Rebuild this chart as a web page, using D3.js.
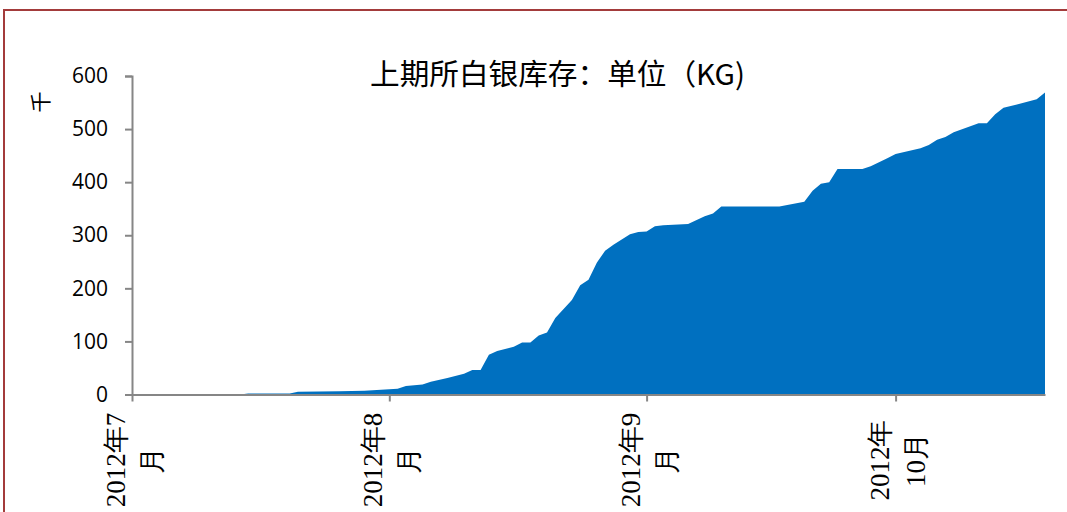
<!DOCTYPE html>
<html lang="zh">
<head>
    <meta charset="UTF-8">
    <title>上期所白银库存</title>
    <style>
        body { margin: 0; background: #fff; }
        svg { display: block; }
    </style>
</head>
<body>
<script src="https://cdn.jsdelivr.net/npm/d3@7"></script>
<script>
    // 上期所白银库存（千 KG），读自原图
    var dates = ["2012-07-01","2012-07-14","2012-07-15","2012-07-20","2012-07-21","2012-07-26",
        "2012-07-29","2012-07-31","2012-08-02","2012-08-03","2012-08-05","2012-08-06","2012-08-08",
        "2012-08-10","2012-08-11","2012-08-12","2012-08-13","2012-08-14","2012-08-16","2012-08-17",
        "2012-08-18","2012-08-19","2012-08-20","2012-08-21","2012-08-23","2012-08-24","2012-08-25",
        "2012-08-26","2012-08-27","2012-08-28","2012-08-30","2012-08-31","2012-09-01","2012-09-02",
        "2012-09-03","2012-09-06","2012-09-08","2012-09-09","2012-09-10","2012-09-17","2012-09-20",
        "2012-09-21","2012-09-22","2012-09-23","2012-09-24","2012-09-27","2012-09-28","2012-09-30",
        "2012-10-01","2012-10-04","2012-10-05","2012-10-06","2012-10-07","2012-10-08","2012-10-11",
        "2012-10-12","2012-10-13","2012-10-14","2012-10-18","2012-10-19"];
    var stock = [0,0,2,2,5,6,
        7,9,11,16,19,24,31,
        39,46,46,75,82,90,98,
        98,111,117,144,178,206,216,
        248,271,282,302,306,307,317,
        319,321,336,341,354,354,363,
        384,397,400,425,425,430,445,
        453,464,470,480,485,494,511,
        511,528,540,556,569];

    var yTicks = [0,100,200,300,400,500,600];
    var xTickDates = ["2012-07-01","2012-08-01","2012-09-01","2012-10-01"];
    var xTickLabels = [["2012年7","月"],["2012年8","月"],["2012年9","月"],["2012年","10月"]];
    var title = "上期所白银库存：单位（KG)";
    var unitLabel = "千";

    var width = 1067,
        height = 512;

    var parse = d3.timeParse("%Y-%m-%d");
    var data = dates.map(function(d,i){ return {date: parse(d), value: stock[i]}; });

    var svg = d3.select("body")
        .append("svg")
        .attr("width",width)
        .attr("height",height);

    // 外框
    svg.append("rect")
        .attr("x",4).attr("y",10)
        .attr("width",1100).attr("height",600)
        .attr("fill","none")
        .attr("stroke","#a33b3b")
        .attr("stroke-width",2);

    var x = d3.scaleTime()
        .domain([parse("2012-07-01"), parse("2012-10-19")])
        .range([132,1045]);

    var y = d3.scaleLinear()
        .domain([0,600])
        .range([394.5,76]);

    var area = d3.area()
        .x(function(d){ return x(d.date); })
        .y0(y(0))
        .y1(function(d){ return y(d.value); });

    svg.append("path")
        .datum(data)
        .attr("d",area)
        .attr("fill","#0070c0");

    // y 轴
    var yAxis = d3.axisLeft(y)
        .tickValues(yTicks)
        .tickSize(7)
        .tickPadding(17);

    var gy = svg.append("g")
        .attr("transform","translate(132,0)")
        .call(yAxis);
    gy.select(".domain").attr("stroke","#868686").attr("stroke-width",2);
    gy.selectAll(".tick line").attr("stroke","#868686").attr("stroke-width",2);
    gy.selectAll(".tick text")
        .attr("fill","#000")
        .attr("font-family","Open Sans")
        .attr("font-size","21px");

    // x 轴
    var xAxis = d3.axisBottom(x)
        .tickValues(xTickDates.map(parse))
        .tickSize(7)
        .tickSizeOuter(0)
        .tickFormat("");

    var gx = svg.append("g")
        .attr("transform","translate(0," + y(0) + ")")
        .call(xAxis);
    gx.select(".domain").attr("stroke","#868686").attr("stroke-width",2);
    gx.selectAll(".tick line").attr("stroke","#868686").attr("stroke-width",2);

    // 竖排月份标签
    var labels = svg.append("g").selectAll("text")
        .data(xTickDates)
        .enter().append("text")
        .attr("transform",function(d){ return "translate(" + x(parse(d)) + ",460) rotate(-90)"; })
        .attr("text-anchor","middle")
        .attr("font-family","Liberation Serif")
        .attr("font-size","27px")
        .attr("fill","#000");

    labels.append("tspan")
        .attr("x",0).attr("y",-7)
        .text(function(d,i){ return xTickLabels[i][0]; });
    labels.append("tspan")
        .attr("x",0).attr("y",29)
        .text(function(d,i){ return xTickLabels[i][1]; });

    // 单位
    svg.append("text")
        .attr("transform","translate(48,102) rotate(-90)")
        .attr("text-anchor","middle")
        .attr("font-family","Noto Sans CJK SC")
        .attr("font-size","21px")
        .text(unitLabel);

    // 标题
    svg.append("text")
        .attr("x",370).attr("y",85)
        .attr("textLength",375)
        .attr("lengthAdjust","spacingAndGlyphs")
        .attr("font-family","Noto Sans CJK SC")
        .attr("font-size","29px")
        .text(title);
</script>
</body>
</html>
